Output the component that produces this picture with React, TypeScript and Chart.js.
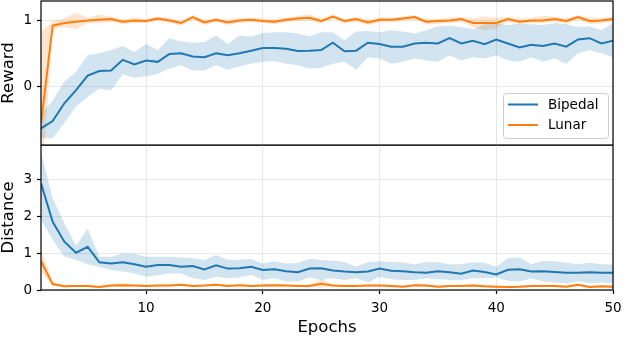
import React, { useEffect, useRef } from 'react';
import { Chart, registerables } from 'chart.js';

Chart.register(...registerables);

const epochs = [
  1, 2, 3, 4, 5, 6, 7, 8, 9, 10, 11, 12, 13, 14, 15, 16, 17, 18, 19, 20, 21, 22, 23, 24, 25,
  26, 27, 28, 29, 30, 31, 32, 33, 34, 35, 36, 37, 38, 39, 40, 41, 42, 43, 44, 45, 46, 47, 48, 49, 50,
];
const epochTicks = [10, 20, 30, 40, 50];
const rewardTicks = [0, 1];
const distanceTicks = [0, 1, 2, 3];
const seriesNames = ['Bipedal', 'Lunar'];

const bipedalReward = [
  -0.64, -0.53, -0.26, -0.06, 0.16, 0.23, 0.24, 0.4, 0.33, 0.39, 0.37, 0.49, 0.5, 0.45, 0.44, 0.5, 0.47, 0.5, 0.54, 0.58, 0.58, 0.57, 0.535, 0.54, 0.55,
  0.66, 0.53, 0.54, 0.66, 0.64, 0.6, 0.6, 0.65, 0.66, 0.65, 0.73, 0.65, 0.69, 0.64, 0.71, 0.65, 0.59, 0.63, 0.61, 0.65, 0.6, 0.71, 0.73, 0.65, 0.69,
];
const bipedalRewardUpper = [
  -0.41, -0.22, 0.07, 0.22, 0.47, 0.5, 0.55, 0.61, 0.52, 0.64, 0.55, 0.73, 0.68, 0.66, 0.67, 0.77, 0.64, 0.77, 0.75, 0.81, 0.82, 0.82, 0.8, 0.76, 0.82,
  0.82, 0.7, 0.83, 0.84, 0.82, 0.85, 0.83, 0.8, 0.85, 0.91, 0.92, 0.9, 0.87, 0.94, 0.95, 0.93, 0.95, 0.94, 0.93, 0.96, 0.94, 0.9, 0.91, 0.85, 0.96,
];
const bipedalRewardLower = [
  -0.79, -0.79, -0.56, -0.31, -0.16, -0.04, -0.06, 0.18, 0.13, 0.15, 0.19, 0.27, 0.32, 0.24, 0.24, 0.32, 0.25, 0.3, 0.34, 0.37, 0.38, 0.34, 0.32, 0.27, 0.28,
  0.34, 0.37, 0.25, 0.44, 0.42, 0.34, 0.37, 0.42, 0.39, 0.37, 0.47, 0.39, 0.44, 0.42, 0.47, 0.39, 0.37, 0.44, 0.37, 0.42, 0.34, 0.5, 0.55, 0.5, 0.44,
];
const lunarReward = [
  -0.56, 0.92, 0.96, 0.98, 1.0, 1.01, 1.02, 0.98, 1.0, 0.99, 1.03, 1.0, 0.96, 1.05, 0.97, 1.01, 0.97, 1.0, 1.01, 0.99, 0.98, 1.01, 1.03, 1.04, 0.99,
  1.06, 0.99, 1.02, 0.97, 1.01, 1.01, 1.03, 1.05, 0.98, 0.99, 1.0, 1.02, 0.96, 0.96, 0.96, 1.02, 0.98, 1.0, 1.0, 1.02, 0.99, 1.05, 0.99, 1.0, 1.02,
];
const lunarRewardUpper = [
  0.82, 0.99, 1.03, 1.12, 1.04, 1.09, 1.06, 1.02, 1.04, 1.02, 1.06, 1.04, 1.0, 1.08, 1.01, 1.04, 1.01, 1.04, 1.04, 1.03, 1.02, 1.04, 1.07, 1.09, 1.03,
  1.09, 1.02, 1.05, 1.01, 1.05, 1.04, 1.06, 1.08, 1.02, 1.03, 1.04, 1.05, 1.03, 1.06, 1.04, 1.05, 1.03, 1.04, 1.07, 1.06, 1.03, 1.08, 1.04, 1.04, 1.05,
];
const lunarRewardLower = [
  -1.6, 0.86, 0.9, 0.87, 0.96, 0.96, 0.98, 0.94, 0.96, 0.96, 1.0, 0.96, 0.92, 1.01, 0.93, 0.98, 0.93, 0.96, 0.98, 0.96, 0.94, 0.97, 0.99, 1.0, 0.95,
  1.03, 0.95, 0.98, 0.93, 0.97, 0.97, 0.99, 1.01, 0.94, 0.95, 0.96, 0.98, 0.9, 0.85, 0.88, 0.98, 0.94, 0.96, 0.96, 0.98, 0.95, 1.01, 0.94, 0.96, 0.98,
];

const bipedalDistance = [
  2.89, 1.85, 1.31, 1.01, 1.17, 0.75, 0.72, 0.75, 0.7, 0.63, 0.68, 0.68, 0.63, 0.65, 0.56, 0.67, 0.58, 0.59, 0.63, 0.54, 0.56, 0.51, 0.48, 0.58, 0.59,
  0.53, 0.5, 0.48, 0.5, 0.58, 0.52, 0.51, 0.48, 0.47, 0.51, 0.48, 0.44, 0.53, 0.49, 0.42, 0.55, 0.56, 0.5, 0.51, 0.49, 0.47, 0.47, 0.48, 0.47, 0.47,
];
const bipedalDistanceUpper = [
  3.75, 2.48, 1.81, 1.2, 1.67, 0.9, 0.9, 0.99, 0.98, 0.9, 0.9, 0.9, 0.88, 0.86, 0.81, 0.95, 0.81, 0.82, 0.84, 0.72, 0.78, 0.72, 0.73, 0.85, 0.81,
  0.79, 0.76, 0.63, 0.76, 0.78, 0.76, 0.75, 0.69, 0.76, 0.75, 0.7, 0.7, 0.75, 0.74, 0.63, 0.86, 0.88, 0.7, 0.79, 0.78, 0.74, 0.7, 0.74, 0.7, 0.69,
];
const bipedalDistanceLower = [
  1.9, 1.36, 0.9, 0.82, 0.7, 0.62, 0.55, 0.5, 0.45, 0.36, 0.4, 0.45, 0.45, 0.32, 0.27, 0.36, 0.32, 0.34, 0.41, 0.27, 0.32, 0.23, 0.23, 0.34, 0.27,
  0.32, 0.27, 0.32, 0.2, 0.36, 0.29, 0.27, 0.27, 0.32, 0.3, 0.27, 0.27, 0.32, 0.32, 0.34, 0.25, 0.23, 0.32, 0.23, 0.2, 0.18, 0.24, 0.18, 0.2, 0.18,
];
const lunarDistance = [
  0.78, 0.16, 0.1, 0.11, 0.11, 0.08, 0.12, 0.13, 0.12, 0.11, 0.12, 0.12, 0.14, 0.11, 0.12, 0.14, 0.11, 0.13, 0.11, 0.12, 0.13, 0.12, 0.11, 0.11, 0.17,
  0.12, 0.11, 0.11, 0.12, 0.12, 0.11, 0.09, 0.13, 0.12, 0.09, 0.11, 0.11, 0.12, 0.1, 0.09, 0.08, 0.09, 0.11, 0.11, 0.11, 0.09, 0.14, 0.08, 0.1, 0.09,
];
const lunarDistanceUpper = [
  1.1, 0.22, 0.13, 0.14, 0.14, 0.11, 0.16, 0.18, 0.15, 0.14, 0.15, 0.15, 0.17, 0.14, 0.15, 0.17, 0.14, 0.16, 0.14, 0.15, 0.16, 0.15, 0.14, 0.15, 0.29,
  0.15, 0.14, 0.14, 0.15, 0.15, 0.14, 0.12, 0.16, 0.15, 0.12, 0.14, 0.14, 0.15, 0.13, 0.12, 0.11, 0.12, 0.14, 0.14, 0.14, 0.12, 0.17, 0.11, 0.13, 0.12,
];
const lunarDistanceLower = [
  0.5, 0.11, 0.07, 0.08, 0.08, 0.05, 0.09, 0.08, 0.09, 0.08, 0.09, 0.09, 0.11, 0.08, 0.09, 0.11, 0.08, 0.1, 0.08, 0.09, 0.1, 0.09, 0.08, 0.08, 0.06,
  0.09, 0.08, 0.08, 0.09, 0.09, 0.08, 0.06, 0.1, 0.09, 0.06, 0.08, 0.08, 0.09, 0.07, 0.06, 0.05, 0.06, 0.08, 0.08, 0.08, 0.06, 0.11, 0.05, 0.07, 0.06,
];

const BLUE = '#1f77b4';
const ORANGE = '#ff7f0e';
const BLUE_FILL = 'rgba(31,119,180,0.2)';
const ORANGE_FILL = 'rgba(255,127,14,0.2)';
const GRID = '#e8e8e8';
const FONT = 'DejaVu Sans';

Chart.defaults.font.family = FONT;
Chart.defaults.color = '#000';

const pts = (ys: number[]) => ys.map((y, i) => ({ x: epochs[i], y }));

function buildDatasets(
  bMean: number[], bUp: number[], bLo: number[],
  lMean: number[], lUp: number[], lLo: number[],
) {
  const line = (label: string, data: number[], color: string) => ({
    label, data: pts(data), borderColor: color, borderWidth: 2, pointRadius: 0, tension: 0, fill: false,
  });
  const band = (data: number[], fillColor: string, fill: any) => ({
    label: '', data: pts(data), borderColor: 'transparent', borderWidth: 0, pointRadius: 0,
    backgroundColor: fillColor, fill, tension: 0,
  });
  return [
    line(seriesNames[0], bMean, BLUE),
    line(seriesNames[1], lMean, ORANGE),
    band(bUp, BLUE_FILL, false),
    band(bLo, BLUE_FILL, '-1'),
    band(lUp, ORANGE_FILL, false),
    band(lLo, ORANGE_FILL, '-1'),
  ];
}

const framePlugin = {
  id: 'frame',
  afterDatasetsDraw(chart: any) {
    const { ctx, chartArea: a } = chart;
    ctx.save();
    ctx.strokeStyle = '#000';
    ctx.lineWidth = 1.2;
    ctx.strokeRect(a.left, a.top, a.right - a.left, a.bottom - a.top);
    ctx.restore();
  },
};

const legendPlugin = {
  id: 'customLegend',
  afterDraw(chart: any) {
    const { ctx, chartArea: a } = chart;
    const w = 105;
    const h = 45;
    const x0 = a.right - 5 - w;
    const y0 = a.bottom - 7 - h;
    ctx.save();
    ctx.beginPath();
    if (ctx.roundRect) ctx.roundRect(x0 + 0.5, y0 + 0.5, w, h, 3);
    else ctx.rect(x0 + 0.5, y0 + 0.5, w, h);
    ctx.fillStyle = 'rgba(255,255,255,0.8)';
    ctx.fill();
    ctx.strokeStyle = '#cccccc';
    ctx.lineWidth = 1;
    ctx.stroke();
    const colors = [BLUE, ORANGE];
    seriesNames.forEach((name, i) => {
      const y = y0 + 11.5 + i * 20.5;
      ctx.beginPath();
      ctx.strokeStyle = colors[i];
      ctx.lineWidth = 2;
      ctx.moveTo(x0 + 5, y);
      ctx.lineTo(x0 + 35, y);
      ctx.stroke();
      ctx.fillStyle = '#000';
      ctx.font = `13.5px "${FONT}"`;
      ctx.textBaseline = 'middle';
      ctx.textAlign = 'left';
      ctx.fillText(name, x0 + 45, y + 0.5);
    });
    ctx.restore();
  },
};

const tickFont = { family: FONT, size: 13.5 };
const titleFont = { family: FONT, size: 16.5, lineHeight: 1.2 };

function yAxis(min: number, max: number, ticks: number[], title: string) {
  return {
    type: 'linear',
    min,
    max,
    afterBuildTicks: (s: any) => { s.ticks = ticks.map((v) => ({ value: v })); },
    ticks: { padding: 5, font: tickFont, color: '#000' },
    grid: { color: GRID, lineWidth: 1, drawTicks: true, tickLength: 4, tickColor: '#000', tickWidth: 1.2 },
    border: { display: false },
    title: { display: true, text: title, font: titleFont, color: '#000', padding: { top: -1, bottom: 0 } },
    afterFit: (s: any) => { s.width = 41; s.paddingTop = 0; s.paddingBottom = 0; },
  };
}

export default function App() {
  const topRef = useRef<HTMLCanvasElement>(null);
  const botRef = useRef<HTMLCanvasElement>(null);

  useEffect(() => {
    const top = new Chart(topRef.current as HTMLCanvasElement, {
      type: 'line',
      data: {
        datasets: buildDatasets(
          bipedalReward, bipedalRewardUpper, bipedalRewardLower,
          lunarReward, lunarRewardUpper, lunarRewardLower,
        ) as any,
      },
      options: {
        animation: false,
        responsive: false,
        devicePixelRatio: 1,
        layout: { padding: { top: 1, right: 10, left: 0, bottom: 0 } },
        plugins: { legend: { display: false }, tooltip: { enabled: false } },
        scales: {
          x: {
            type: 'linear',
            min: 1,
            max: 50,
            afterBuildTicks: (s: any) => { s.ticks = epochTicks.map((v) => ({ value: v })); },
            ticks: { display: false },
            grid: { color: GRID, drawTicks: false },
            border: { display: false },
            afterFit: (s: any) => { s.height = 5; s.paddingLeft = 0; s.paddingRight = 0; },
          },
          y: yAxis(-0.894, 1.295, rewardTicks, 'Reward'),
        } as any,
      },
      plugins: [framePlugin, legendPlugin],
    });

    const bot = new Chart(botRef.current as HTMLCanvasElement, {
      type: 'line',
      data: {
        datasets: buildDatasets(
          bipedalDistance, bipedalDistanceUpper, bipedalDistanceLower,
          lunarDistance, lunarDistanceUpper, lunarDistanceLower,
        ) as any,
      },
      options: {
        animation: false,
        responsive: false,
        devicePixelRatio: 1,
        layout: { padding: { top: 0, right: 10, left: 0, bottom: 0 } },
        plugins: { legend: { display: false }, tooltip: { enabled: false } },
        scales: {
          x: {
            type: 'linear',
            min: 1,
            max: 50,
            afterBuildTicks: (s: any) => { s.ticks = epochTicks.map((v) => ({ value: v })); },
            ticks: { padding: 6, font: tickFont, color: '#000', maxRotation: 0, autoSkip: false },
            grid: { color: GRID, drawTicks: true, tickLength: 4, tickColor: '#000', tickWidth: 1.2 },
            border: { display: false },
            title: { display: true, text: 'Epochs', font: titleFont, color: '#000', padding: { top: 0, bottom: -1 } },
            afterFit: (s: any) => { s.height = 47; s.paddingLeft = 0; s.paddingRight = 0; },
          },
          y: yAxis(0, 3.93, distanceTicks, 'Distance'),
        } as any,
      },
      plugins: [framePlugin],
    });

    return () => {
      top.destroy();
      bot.destroy();
    };
  }, []);

  return (
    <div style={{ position: 'fixed', left: 0, top: 0, width: 623, height: 337, background: '#fff' }}>
      <canvas
        ref={topRef}
        width={623}
        height={150}
        style={{ position: 'absolute', left: 0, top: 0, width: 623, height: 150 }}
      />
      <canvas
        ref={botRef}
        width={623}
        height={192}
        style={{ position: 'absolute', left: 0, top: 145, width: 623, height: 192 }}
      />
    </div>
  );
}
